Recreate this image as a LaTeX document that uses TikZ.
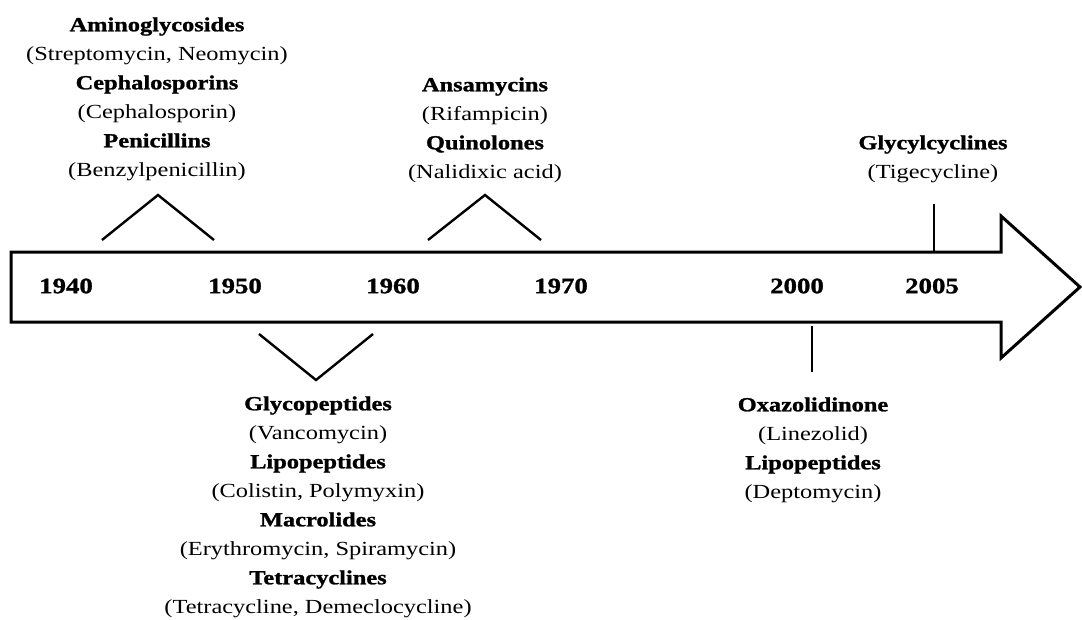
\documentclass[tikz,border=0pt]{standalone}
\usepackage{fontspec}
\setmainfont{Liberation Serif}[FakeStretch=1.22,BoldFeatures={FakeBold=1.2}]
\usepackage{tikz}
\tikzstyle{year} = [font=\fontsize{22}{26}\selectfont\bfseries, inner sep=0pt]
\tikzstyle{drugs} = [align=center, font=\fontsize{20}{29}\selectfont, inner sep=0pt]
\tikzstyle{bracket} = [line width=2.4pt]

\begin{document}
\begin{tikzpicture}[line cap=butt,line join=miter,x=1pt,y=-1pt]
    \useasboundingbox (0,0) rectangle (1082,619);
    % timeline arrow
    \draw [line width=3pt] (11,252) -- (1001,252) -- (1001,216) -- (1080,287) -- (1001,358) -- (1001,322) -- (11,322) -- cycle;
    % years
    \node[year] (y1940) at (66,286) {1940};
    \node[year] (y1950) at (235,286) {1950};
    \node[year] (y1960) at (393,286) {1960};
    \node[year] (y1970) at (561,286) {1970};
    \node[year] (y2000) at (797,286) {2000};
    \node[year] (y2005) at (932,286) {2005};
    % brackets and ticks
    \draw [bracket] (102,240) -- (158,195) -- (214,240);
    \draw [bracket] (428,240) -- (485,195) -- (541,240);
    \draw [bracket] (259,334) -- (316,380) -- (373,334);
    \draw [bracket] (934,204) -- (934,252);
    \draw [bracket] (812,326) -- (812,372);
    % antibiotic classes
    \node[drugs] (c1940) at (157,99) {\textbf{Aminoglycosides}\\(Streptomycin, Neomycin)\\\textbf{Cephalosporins}\\(Cephalosporin)\\\textbf{Penicillins}\\(Benzylpenicillin)};
    \node[drugs] (c1960) at (485,130) {\textbf{Ansamycins}\\(Rifampicin)\\\textbf{Quinolones}\\(Nalidixic acid)};
    \node[drugs] (c2005) at (933,159) {\textbf{Glycylcyclines}\\(Tigecycline)};
    \node[drugs] (c1950) at (318,507) {\textbf{Glycopeptides}\\(Vancomycin)\\\textbf{Lipopeptides}\\(Colistin, Polymyxin)\\\textbf{Macrolides}\\(Erythromycin, Spiramycin)\\\textbf{Tetracyclines}\\(Tetracycline, Demeclocycline)};
    \node[drugs] (c2000) at (813,450) {\textbf{Oxazolidinone}\\(Linezolid)\\\textbf{Lipopeptides}\\(Deptomycin)};
\end{tikzpicture}
\end{document}
